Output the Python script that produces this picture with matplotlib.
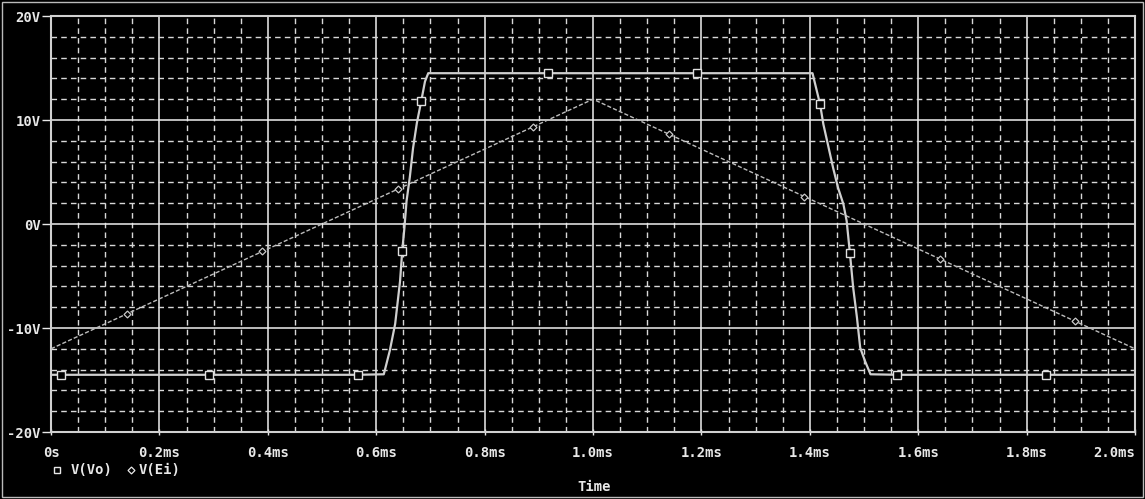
import numpy as np
import matplotlib
matplotlib.use("Agg")
import matplotlib.pyplot as plt
from matplotlib.ticker import MultipleLocator, FixedLocator, FixedFormatter
from matplotlib.lines import Line2D
from matplotlib.patches import Rectangle

# ---------------- data (time in ms, voltage in V) ----------------
vo_t = [0.0, 0.018, 0.292, 0.566, 0.614, 0.625, 0.635, 0.644, 0.648, 0.652, 0.656,
        0.662, 0.668, 0.675, 0.683, 0.690, 0.696, 0.917, 1.192, 1.405, 1.419, 1.425,
        1.443, 1.452, 1.462, 1.468, 1.474, 1.480, 1.487, 1.493, 1.502, 1.512, 1.561,
        1.836, 2.0]
vo_v = [-14.5, -14.5, -14.5, -14.5, -14.45, -12.2, -9.6, -5.5, -2.6, -0.4, 2.2,
        4.5, 7.3, 9.7, 11.8, 13.7, 14.5, 14.5, 14.5, 14.5, 11.5, 9.6,
        5.4, 3.5, 1.9, 0.3, -2.8, -6.1, -9.0, -11.9, -13.2, -14.45, -14.5,
        -14.5, -14.5]
vo_marker_t = [0.018, 0.292, 0.566, 0.648, 0.683, 0.917, 1.192, 1.419, 1.474, 1.561, 1.836]

ei_t = [0.0, 0.14, 0.39, 0.64, 0.89, 1.0, 1.14, 1.39, 1.64, 1.89, 2.0]
ei_v = [-12.0, -8.64, -2.64, 3.36, 9.36, 12.0, 8.64, 2.64, -3.36, -9.36, -12.0]
ei_marker_t = [0.14, 0.39, 0.64, 0.89, 1.14, 1.39, 1.64, 1.89]

x_ticks = [0.0, 0.2, 0.4, 0.6, 0.8, 1.0, 1.2, 1.4, 1.6, 1.8, 2.0]
x_labels = ["0s", "0.2ms", "0.4ms", "0.6ms", "0.8ms", "1.0ms", "1.2ms", "1.4ms",
            "1.6ms", "1.8ms", "2.0ms"]
y_ticks = [-20, -10, 0, 10, 20]
y_labels = ["-20V", "-10V", "0V", "10V", "20V"]
legend_names = ["V(Vo)", "V(Ei)"]
x_title = "Time"

# ---------------- figure ----------------
W, H = 1145, 499
fig = plt.figure(figsize=(W / 100, H / 100), dpi=100, facecolor="black")
ax = fig.add_axes([51 / W, 1 - 432 / H, (1135 - 51) / W, (432 - 16) / H])
ax.set_facecolor("black")
ax.set_xlim(0, 2.0)
ax.set_ylim(-20, 20)

font = dict(family="DejaVu Sans Mono", weight="bold", size=10)
fg = "#e8e8e8"

ax.xaxis.set_major_locator(FixedLocator(x_ticks))
ax.xaxis.set_major_formatter(FixedFormatter(x_labels))
ax.yaxis.set_major_locator(FixedLocator(y_ticks))
ax.yaxis.set_major_formatter(FixedFormatter(y_labels))
ax.xaxis.set_minor_locator(MultipleLocator(0.05))
ax.yaxis.set_minor_locator(MultipleLocator(2))

ax.tick_params(axis="x", which="major", direction="inout", length=4, width=1,
               color=fg, pad=8, labelcolor=fg)
ax.tick_params(axis="y", which="major", direction="out", length=6.5, width=1,
               color=fg, pad=1, labelcolor=fg)
ax.tick_params(which="minor", length=0)
for lab in ax.get_xticklabels() + ax.get_yticklabels():
    lab.set_fontproperties(matplotlib.font_manager.FontProperties(**font))
ax.get_xticklabels()[-1].set_horizontalalignment("right")

ax.set_axisbelow(True)
ax.grid(which="major", color="#f0f0f0", linewidth=1.1, linestyle="-")
ax.grid(which="minor", color="#d8d8d8", linewidth=1.0, linestyle=(0, (4, 3)))
for s in ax.spines.values():
    s.set_color("#d0d0d0")
    s.set_linewidth(1.5)

vo_idx = [int(np.argmin(np.abs(np.array(vo_t) - t))) for t in vo_marker_t]
ei_idx = [int(np.argmin(np.abs(np.array(ei_t) - t))) for t in ei_marker_t]

ax.plot(ei_t, ei_v, color="#bdbdbd", linewidth=1.0, linestyle=(0, (3, 1.5)),
        marker="D", markersize=3.5, markerfacecolor="black", markeredgecolor="#c8c8c8",
        markeredgewidth=0.9, markevery=ei_idx, zorder=3)
ax.plot(vo_t, vo_v, color="#cfcfcf", linewidth=1.6, linestyle="-",
        marker="s", markersize=5.5, markerfacecolor="black", markeredgecolor="#e0e0e0",
        markeredgewidth=1.0, markevery=vo_idx, zorder=4)

# legend and axis title
fig.add_artist(Line2D([57 / W], [1 - 470 / H], transform=fig.transFigure, marker="s",
                      markersize=5, markerfacecolor="black", markeredgecolor=fg,
                      markeredgewidth=1, linestyle="none"))
fig.text(71 / W, 1 - 470 / H, legend_names[0], color=fg, va="center", ha="left", **font)
fig.add_artist(Line2D([131 / W], [1 - 470 / H], transform=fig.transFigure, marker="D",
                      markersize=3.5, markerfacecolor="black", markeredgecolor=fg,
                      markeredgewidth=0.9, linestyle="none"))
fig.text(139 / W, 1 - 470 / H, legend_names[1], color=fg, va="center", ha="left", **font)
fig.text(594 / W, 1 - 487 / H, x_title, color=fg, va="center", ha="center", **font)

# outer frame
fig.add_artist(Rectangle((2 / W, 1 - 497 / H), 1141 / W, 495 / H, transform=fig.transFigure,
                         fill=False, edgecolor="#bbbbbb", linewidth=1.0))

fig.savefig("out.png", dpi=100, facecolor="black")
